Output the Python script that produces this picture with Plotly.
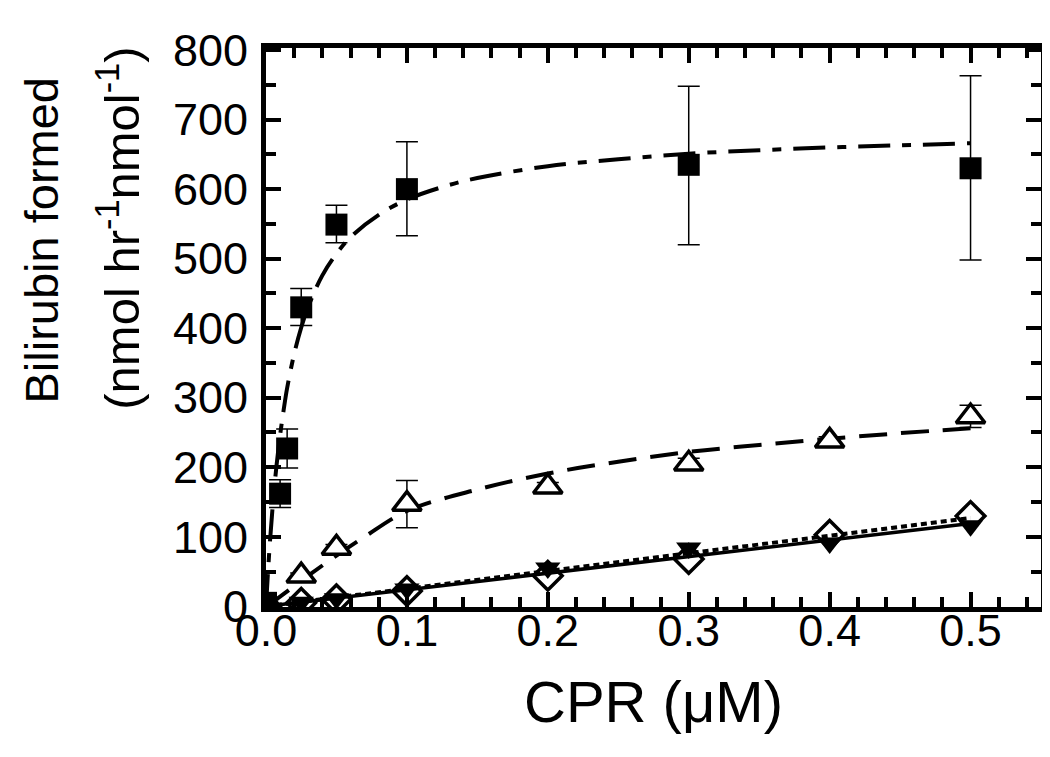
import plotly.graph_objects as go

# CPR concentrations (uM) and measured bilirubin formation
cpr_sq = [0, 0.01, 0.015, 0.025, 0.05, 0.1, 0.3, 0.5]
sq = [5, 162, 227, 430, 549, 600, 635, 630]
sq_err_up = [0, 20, 28, 27, 28, 68, 113, 133]
sq_err_dn = [0, 20, 28, 26, 26, 67, 115, 132]

cpr = [0, 0.025, 0.05, 0.1, 0.2, 0.3, 0.4, 0.5]
tri = [0, 44, 84, 147, 172, 205, 238, 273]
tri_err = [0, 4, 5, 34, 6, 8, 6, 16]
tdown = [0, 6, 11, 25, 55, 84, 91, 116]
diam = [0, 5, 10, 22, 44, 68, 103, 130]

# fitted curves
fit_sq_x = [0, 0.0025, 0.005, 0.0075, 0.01, 0.0125, 0.015, 0.02, 0.025, 0.03, 0.04, 0.05,
            0.06, 0.08, 0.1, 0.125, 0.15, 0.2, 0.25, 0.3, 0.35, 0.4, 0.45, 0.5]
fit_sq_y = [0, 84, 150, 203, 246, 282, 314, 363, 401, 431, 476, 507,
            531, 563, 585, 603, 616, 633, 643, 651, 656, 660, 663, 666]
fit_tri_x = [0, 0.01, 0.02, 0.03, 0.05, 0.07, 0.1, 0.15, 0.2, 0.25, 0.3, 0.35, 0.4, 0.45, 0.5]
fit_tri_y = [0, 14, 29, 44, 73, 100, 137, 168, 191, 208, 222, 232, 241, 249, 256]
fit_td_x = [0, 0.5]
fit_td_y = [0, 119]
fit_dm_x = [0, 0.5]
fit_dm_y = [0, 127]

FONT = "Liberation Sans, Arial, sans-serif"

fig = go.Figure()

# fit lines
fig.add_trace(go.Scatter(x=fit_sq_x, y=fit_sq_y, mode="lines", line_shape="spline",
                         line=dict(color="black", width=4, dash="32px,12px,9px,12px")))
fig.add_trace(go.Scatter(x=fit_tri_x, y=fit_tri_y, mode="lines", line_shape="spline",
                         line=dict(color="black", width=4, dash="28px,14px")))
fig.add_trace(go.Scatter(x=fit_td_x, y=fit_td_y, mode="lines",
                         line=dict(color="black", width=3.5)))
fig.add_trace(go.Scatter(x=fit_dm_x, y=fit_dm_y, mode="lines",
                         line=dict(color="black", width=4, dash="6px,4px")))

# data points
fig.add_trace(go.Scatter(x=cpr, y=diam, mode="markers",
                         marker=dict(symbol="diamond-open", size=22, color="black",
                                     line=dict(width=3.5, color="black"))))
fig.add_trace(go.Scatter(x=cpr, y=tdown, mode="markers",
                         marker=dict(symbol="triangle-down", size=22, color="black")))
fig.add_trace(go.Scatter(x=cpr, y=tri, mode="markers",
                         error_y=dict(type="data", array=tri_err, color="black",
                                      thickness=1.5, width=11),
                         marker=dict(symbol="triangle-up", size=25, color="white",
                                     line=dict(width=3.5, color="black"))))
fig.add_trace(go.Scatter(x=cpr_sq, y=sq, mode="markers",
                         error_y=dict(type="data", array=sq_err_up, arrayminus=sq_err_dn,
                                      color="black", thickness=1.5, width=11),
                         marker=dict(symbol="square", size=22, color="black")))

axis_common = dict(
    showline=True, linewidth=5, linecolor="black", mirror="ticks",
    ticks="inside", ticklen=15, tickwidth=4, tickcolor="black",
    showgrid=False, zeroline=False,
    tickfont=dict(family=FONT, size=45, color="black"),
)

fig.update_xaxes(range=[0, 0.55], tickvals=[0, 0.1, 0.2, 0.3, 0.4, 0.5],
                 ticktext=["0.0", "0.1", "0.2", "0.3", "0.4", "0.5"],
                 minor=dict(dtick=0.02, tick0=0, ticks="inside", ticklen=10,
                            tickwidth=4, tickcolor="black"),
                 ticklabelstandoff=-20,
                 title=dict(text="CPR (\u03bcM)", font=dict(family=FONT, size=58, color="black"),
                            standoff=28),
                 **axis_common)
fig.update_yaxes(range=[-1, 803], tickvals=[0, 100, 200, 300, 400, 500, 600, 700, 800],
                 minor=dict(dtick=50, tick0=0, ticks="inside", ticklen=10,
                            tickwidth=4, tickcolor="black"),
                 ticklabelstandoff=4,
                 **axis_common)

fig.add_annotation(text="Bilirubin formed", xref="paper", yref="paper",
                   x=-0.29, y=0.656, textangle=-90, showarrow=False,
                   xanchor="center", yanchor="middle",
                   font=dict(family=FONT, size=47, color="black"))
fig.add_annotation(text="(nmol hr<sup>-1</sup>nmol<sup>-1</sup>)", xref="paper", yref="paper",
                   x=-0.19, y=0.678, textangle=-90, showarrow=False,
                   xanchor="center", yanchor="middle",
                   font=dict(family=FONT, size=49, color="black"))

fig.update_layout(
    width=1050, height=757,
    margin=dict(l=258, r=15, t=40, b=158),
    plot_bgcolor="white", paper_bgcolor="white",
    showlegend=False,
)

fig.write_html("out.html")
